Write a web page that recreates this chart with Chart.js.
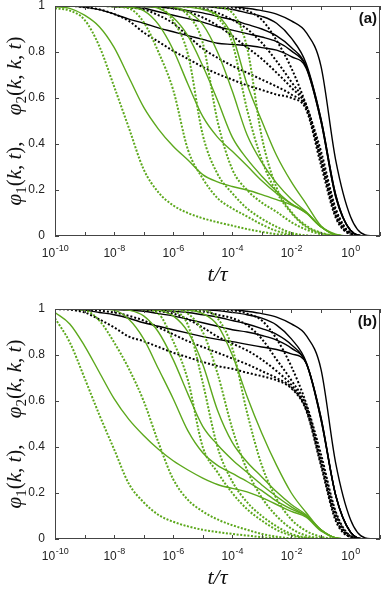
<!DOCTYPE html>
<html>
<head>
<meta charset="utf-8">
<script src="https://cdn.jsdelivr.net/npm/chart.js@4"></script>
<style>
  body { margin: 0; background: #fff; }
  canvas { position: absolute; left: 0; }
</style>
</head>
<body>
<canvas id="chartA" width="382" height="286" style="top:0"></canvas>
<canvas id="chartB" width="382" height="286" style="top:303px"></canvas>
<script>
const GREEN = "#5ca81c";
const BLACK = "#000000";

// common time grid, log10(t/tau)
const LOG_T = [-10, -9.5, -9, -8.5, -8, -7.5, -7, -6.5, -6, -5.5, -5, -4.5, -4, -3.5, -3, -2.5, -2, -1.5, -1, -0.5, 0, 0.5, 1];
const X_TICK_EXP = [-10, -9, -8, -7, -6, -5, -4, -3, -2, -1, 0, 1];
const X_LABEL_EXP = [-10, -8, -6, -4, -2, 0];
const Y_TICKS = [0, 0.2, 0.4, 0.6, 0.8, 1];
const Y_LABELS = ["0", "0.2", "0.4", "0.6", "0.8", "1"];

/* panel (a) */
const greenSolidA1 = [0.997, 0.99, 0.96, 0.91, 0.82, 0.69, 0.56, 0.465, 0.39, 0.33, 0.267, 0.235, 0.215, 0.2, 0.18, 0.158, 0.135, 0.1, 0.04, 0.005, 0, 0, 0];
const greenSolidA2 = [1, 1, 1, 1, 0.998, 0.995, 0.98, 0.92, 0.81, 0.66, 0.52, 0.43, 0.368, 0.305, 0.24, 0.185, 0.14, 0.103, 0.04, 0.005, 0, 0, 0];
const greenSolidA3 = [1, 1, 1, 1, 1, 1, 0.998, 0.99, 0.95, 0.87, 0.74, 0.59, 0.43, 0.335, 0.26, 0.195, 0.14, 0.1, 0.04, 0.005, 0, 0, 0];
const greenSolidA4 = [1, 1, 1, 1, 1, 1, 1, 1, 0.995, 0.975, 0.92, 0.8, 0.63, 0.44, 0.32, 0.23, 0.16, 0.105, 0.04, 0.005, 0, 0, 0];
const greenSolidA5 = [1, 1, 1, 1, 1, 1, 1, 1, 1, 0.995, 0.985, 0.96, 0.87, 0.66, 0.5, 0.35, 0.235, 0.14, 0.045, 0.008, 0, 0, 0];

const greenDotA1 = [0.99, 0.98, 0.94, 0.825, 0.65, 0.47, 0.29, 0.19, 0.133, 0.1, 0.077, 0.06, 0.045, 0.03, 0.018, 0.008, 0.003, 0, 0, 0, 0, 0, 0];
const greenDotA2 = [1, 1, 1, 1, 0.998, 0.99, 0.93, 0.8, 0.635, 0.375, 0.25, 0.165, 0.12, 0.085, 0.05, 0.022, 0.007, 0, 0, 0, 0, 0, 0];
const greenDotA3 = [1, 1, 1, 1, 1, 1, 1, 0.995, 0.935, 0.79, 0.44, 0.27, 0.186, 0.12, 0.075, 0.04, 0.014, 0.003, 0, 0, 0, 0, 0];
const greenDotA4 = [1, 1, 1, 1, 1, 1, 1, 1, 0.995, 0.96, 0.84, 0.5, 0.29, 0.2, 0.145, 0.105, 0.06, 0.028, 0.008, 0.001, 0, 0, 0];
const greenDotA5 = [1, 1, 1, 1, 1, 1, 1, 1, 1, 1, 0.99, 0.95, 0.84, 0.55, 0.33, 0.19, 0.1, 0.04, 0.012, 0.002, 0, 0, 0];
const greenDotA6 = [1, 1, 1, 1, 1, 1, 1, 1, 1, 1, 1, 0.995, 0.97, 0.82, 0.43, 0.21, 0.105, 0.045, 0.014, 0.002, 0, 0, 0];

const blackSolidA1 = [1, 1, 1, 1, 1, 1, 1, 1, 1, 1, 1, 1, 0.998, 0.99, 0.98, 0.965, 0.935, 0.885, 0.74, 0.33, 0.085, 0.005, 0];
const blackSolidA2 = [1, 1, 1, 1, 1, 1, 0.998, 0.995, 0.99, 0.98, 0.97, 0.955, 0.94, 0.92, 0.9, 0.87, 0.82, 0.74, 0.51, 0.18, 0.025, 0, 0];
const blackSolidA3 = [1, 1, 1, 1, 0.998, 0.995, 0.99, 0.975, 0.96, 0.945, 0.93, 0.91, 0.895, 0.88, 0.865, 0.845, 0.805, 0.735, 0.5, 0.17, 0.025, 0, 0];
const blackSolidA4 = [1, 1, 0.995, 0.984, 0.965, 0.943, 0.925, 0.905, 0.888, 0.871, 0.855, 0.838, 0.833, 0.828, 0.819, 0.808, 0.78, 0.73, 0.5, 0.17, 0.025, 0, 0];
const blackSolidA5 = [1, 1, 1, 1, 1, 1, 1, 1, 1, 0.999, 0.998, 0.992, 0.985, 0.97, 0.955, 0.925, 0.86, 0.75, 0.51, 0.18, 0.025, 0, 0];

const blackDotA1 = [1, 1, 0.995, 0.985, 0.965, 0.935, 0.885, 0.845, 0.805, 0.77, 0.735, 0.705, 0.68, 0.655, 0.635, 0.615, 0.6, 0.55, 0.31, 0.08, 0.008, 0, 0];
const blackDotA2 = [1, 1, 1, 1, 0.998, 0.993, 0.985, 0.96, 0.925, 0.87, 0.815, 0.775, 0.74, 0.71, 0.68, 0.65, 0.615, 0.56, 0.33, 0.09, 0.01, 0, 0];
const blackDotA3 = [1, 1, 1, 1, 1, 1, 1, 0.997, 0.99, 0.975, 0.95, 0.915, 0.87, 0.82, 0.77, 0.71, 0.645, 0.565, 0.34, 0.1, 0.01, 0, 0];
const blackDotA4 = [1, 1, 1, 1, 1, 1, 1, 1, 1, 0.997, 0.99, 0.97, 0.94, 0.9, 0.84, 0.76, 0.67, 0.57, 0.35, 0.11, 0.012, 0, 0];
const blackDotA5 = [1, 1, 1, 1, 1, 1, 1, 1, 1, 1, 1, 0.998, 0.995, 0.98, 0.94, 0.85, 0.73, 0.57, 0.37, 0.12, 0.014, 0, 0];

/* panel (b) */
const greenSolidB1 = [0.985, 0.935, 0.84, 0.725, 0.61, 0.52, 0.45, 0.39, 0.34, 0.3, 0.265, 0.237, 0.22, 0.205, 0.18, 0.15, 0.12, 0.095, 0.035, 0.005, 0, 0, 0];
const greenSolidB2 = [1, 1, 1, 1, 0.995, 0.955, 0.87, 0.74, 0.61, 0.47, 0.375, 0.32, 0.285, 0.25, 0.21, 0.165, 0.13, 0.1, 0.04, 0.005, 0, 0, 0];
const greenSolidB3 = [1, 1, 1, 1, 1, 0.995, 0.97, 0.9, 0.78, 0.63, 0.49, 0.41, 0.345, 0.29, 0.235, 0.185, 0.14, 0.1, 0.04, 0.005, 0, 0, 0];
const greenSolidB4 = [1, 1, 1, 1, 1, 1, 1, 0.995, 0.97, 0.9, 0.76, 0.56, 0.42, 0.335, 0.27, 0.205, 0.15, 0.105, 0.04, 0.005, 0, 0, 0];
const greenSolidB5 = [1, 1, 1, 1, 1, 1, 1, 1, 1, 0.995, 0.98, 0.93, 0.8, 0.62, 0.46, 0.32, 0.2, 0.115, 0.04, 0.005, 0, 0, 0];

const greenDotB1 = [0.96, 0.855, 0.7, 0.54, 0.39, 0.24, 0.16, 0.105, 0.075, 0.055, 0.04, 0.03, 0.022, 0.015, 0.008, 0.003, 0, 0, 0, 0, 0, 0, 0];
const greenDotB2 = [1, 1, 0.995, 0.95, 0.855, 0.74, 0.6, 0.42, 0.26, 0.17, 0.12, 0.085, 0.06, 0.04, 0.022, 0.01, 0.003, 0, 0, 0, 0, 0, 0];
const greenDotB3 = [1, 1, 1, 1, 1, 1, 0.998, 0.98, 0.86, 0.69, 0.4, 0.29, 0.2, 0.13, 0.08, 0.04, 0.015, 0.004, 0, 0, 0, 0, 0];
const greenDotB4 = [1, 1, 1, 1, 1, 1, 1, 0.998, 0.99, 0.93, 0.68, 0.4, 0.25, 0.16, 0.1, 0.055, 0.022, 0.006, 0, 0, 0, 0, 0];
const greenDotB5 = [1, 1, 1, 1, 1, 1, 1, 1, 0.998, 0.98, 0.9, 0.72, 0.48, 0.3, 0.18, 0.1, 0.045, 0.015, 0.004, 0, 0, 0, 0];
const greenDotB6 = [1, 1, 1, 1, 1, 1, 1, 1, 1, 1, 0.995, 0.96, 0.83, 0.55, 0.32, 0.175, 0.085, 0.035, 0.01, 0.002, 0, 0, 0];

const blackSolidB1 = [1, 1, 1, 1, 1, 1, 1, 1, 1, 1, 1, 1, 0.998, 0.99, 0.98, 0.965, 0.935, 0.885, 0.74, 0.33, 0.085, 0.005, 0];
const blackSolidB2 = [1, 1, 1, 1, 1, 1, 0.998, 0.995, 0.99, 0.985, 0.975, 0.965, 0.95, 0.935, 0.915, 0.89, 0.845, 0.765, 0.53, 0.19, 0.03, 0, 0];
const blackSolidB3 = [1, 1, 1, 1, 0.998, 0.995, 0.99, 0.98, 0.97, 0.955, 0.94, 0.925, 0.91, 0.9, 0.885, 0.865, 0.83, 0.765, 0.52, 0.19, 0.03, 0, 0];
const blackSolidB4 = [1, 1, 0.995, 0.985, 0.975, 0.96, 0.94, 0.925, 0.91, 0.895, 0.88, 0.868, 0.858, 0.846, 0.835, 0.824, 0.805, 0.765, 0.52, 0.19, 0.03, 0, 0];
const blackSolidB5 = [1, 1, 1, 1, 1, 1, 1, 1, 1, 0.999, 0.998, 0.993, 0.985, 0.975, 0.96, 0.93, 0.87, 0.77, 0.53, 0.19, 0.03, 0, 0];

const blackDotB1 = [1, 0.997, 0.985, 0.955, 0.92, 0.88, 0.86, 0.835, 0.81, 0.79, 0.77, 0.752, 0.74, 0.723, 0.708, 0.69, 0.655, 0.56, 0.32, 0.08, 0.008, 0, 0];
const blackDotB2 = [1, 1, 0.998, 0.993, 0.985, 0.97, 0.95, 0.92, 0.89, 0.86, 0.835, 0.81, 0.785, 0.76, 0.73, 0.7, 0.66, 0.565, 0.33, 0.09, 0.009, 0, 0];
const blackDotB3 = [1, 1, 1, 1, 1, 0.999, 0.998, 0.99, 0.98, 0.955, 0.92, 0.88, 0.85, 0.82, 0.78, 0.73, 0.67, 0.57, 0.34, 0.1, 0.01, 0, 0];
const blackDotB4 = [1, 1, 1, 1, 1, 1, 1, 1, 1, 0.995, 0.99, 0.975, 0.96, 0.93, 0.87, 0.78, 0.69, 0.58, 0.35, 0.11, 0.012, 0, 0];
const blackDotB5 = [1, 1, 1, 1, 1, 1, 1, 1, 1, 1, 1, 0.998, 0.995, 0.98, 0.95, 0.87, 0.75, 0.59, 0.37, 0.12, 0.014, 0, 0];

function curve(values, color, dotted) {
  return {
    data: LOG_T.map((lt, i) => ({ x: Math.pow(10, lt), y: values[i] })),
    borderColor: color,
    borderWidth: dotted ? 2 : 1.4,
    borderDash: dotted ? (color === GREEN ? [2, 1.6] : [2, 2]) : [],
    borderCapStyle: "butt",
    pointRadius: 0,
    cubicInterpolationMode: "monotone",
    fill: false
  };
}

/* frame, inward ticks, tick labels and axis titles */
function drawYTitle(ctx, bx, cy) {
  const big = "21px 'Liberation Serif'";
  const bigIt = "italic 21px 'Liberation Serif'";
  const small = "15px 'Liberation Serif'";
  const parts = [
    [bigIt, "φ", 0], [small, "1", 5], [big, "(", 0], [bigIt, "k", 0], [big, ", ", 0], [bigIt, "t", 0], [big, "),", 0],
    [big, "     ", 0],
    [bigIt, "φ", 0], [small, "2", 5], [big, "(", 0], [bigIt, "k", 0], [big, ", ", 0], [bigIt, "k", 0], [big, ", ", 0], [bigIt, "t", 0], [big, ")", 0]
  ];
  let total = 0;
  parts.forEach(p => { ctx.font = p[0]; total += ctx.measureText(p[1]).width; });
  ctx.save();
  ctx.translate(bx, cy);
  ctx.rotate(-Math.PI / 2);
  ctx.textBaseline = "alphabetic";
  ctx.textAlign = "left";
  let pos = -total / 2;
  parts.forEach(p => {
    ctx.font = p[0];
    ctx.fillText(p[1], pos, p[2]);
    pos += ctx.measureText(p[1]).width;
  });
  ctx.restore();
}

function decorations(label) {
  return {
    id: "decorations",
    afterDraw(chart) {
      const { ctx, chartArea: a, scales: { x, y } } = chart;
      ctx.save();
      ctx.strokeStyle = "#444";
      ctx.lineWidth = 1;
      ctx.strokeRect(a.left + 0.5, a.top + 0.5, a.right - a.left - 1, a.bottom - a.top - 1);
      ctx.beginPath();
      X_TICK_EXP.forEach(e => {
        const px = Math.round(x.getPixelForValue(Math.pow(10, e))) + 0.5;
        ctx.moveTo(px, a.bottom); ctx.lineTo(px, a.bottom - 4);
        ctx.moveTo(px, a.top); ctx.lineTo(px, a.top + 4);
      });
      Y_TICKS.forEach(v => {
        const py = Math.round(y.getPixelForValue(v)) + 0.5;
        ctx.moveTo(a.left, py); ctx.lineTo(a.left + 4, py);
        ctx.moveTo(a.right, py); ctx.lineTo(a.right - 4, py);
      });
      ctx.stroke();

      ctx.fillStyle = "#222";
      ctx.font = "12px 'Liberation Sans'";
      ctx.textAlign = "right";
      ctx.textBaseline = "middle";
      Y_TICKS.forEach((v, i) => ctx.fillText(Y_LABELS[i], a.left - 10, y.getPixelForValue(v)));

      ctx.textAlign = "left";
      ctx.textBaseline = "alphabetic";
      X_LABEL_EXP.forEach(e => {
        const base = "10", sup = String(e);
        ctx.font = "12px 'Liberation Sans'";
        const wb = ctx.measureText(base).width;
        ctx.font = "9px 'Liberation Sans'";
        const ws = ctx.measureText(sup).width;
        const px = x.getPixelForValue(Math.pow(10, e));
        const left = px - (wb + ws) / 2;
        ctx.font = "12px 'Liberation Sans'";
        ctx.fillText(base, left, a.bottom + 21);
        ctx.font = "9px 'Liberation Sans'";
        ctx.fillText(sup, left + wb + 0.5, a.bottom + 15);
      });

      ctx.fillStyle = "#111";
      ctx.textAlign = "center";
      ctx.font = "italic 22px 'Liberation Serif'";
      ctx.fillText("t/τ", (a.left + a.right) / 2, a.bottom + 45);

      drawYTitle(ctx, 21, (a.top + a.bottom) / 2);

      ctx.font = "bold 15px 'Liberation Sans'";
      ctx.textAlign = "right";
      ctx.fillText(label, a.right - 3, a.top + 17);
      ctx.restore();
    }
  };
}

function makeChart(id, label, greens, blacks) {
  const datasets = [
    ...greens.solid.map(v => curve(v, GREEN, false)),
    ...greens.dotted.map(v => curve(v, GREEN, true)),
    ...blacks.solid.map(v => curve(v, BLACK, false)),
    ...blacks.dotted.map(v => curve(v, BLACK, true))
  ];
  new Chart(document.getElementById(id), {
    type: "line",
    data: { datasets },
    options: {
      responsive: false,
      animation: false,
      devicePixelRatio: 1,
      layout: { padding: { top: 6, right: 2, left: 0, bottom: 0 } },
      plugins: { legend: { display: false }, tooltip: { enabled: false } },
      scales: {
        x: {
          type: "logarithmic",
          min: 1e-10,
          max: 10,
          grid: { display: false },
          border: { display: false },
          ticks: { display: false },
          afterFit: s => { s.height = 50; }
        },
        y: {
          min: 0,
          max: 1,
          grid: { display: false },
          border: { display: false },
          ticks: { display: false },
          afterFit: s => { s.width = 55; }
        }
      }
    },
    plugins: [decorations(label)]
  });
}

makeChart("chartA", "(a)",
  { solid: [greenSolidA1, greenSolidA2, greenSolidA3, greenSolidA4, greenSolidA5],
    dotted: [greenDotA1, greenDotA2, greenDotA3, greenDotA4, greenDotA5, greenDotA6] },
  { solid: [blackSolidA1, blackSolidA2, blackSolidA3, blackSolidA4, blackSolidA5],
    dotted: [blackDotA1, blackDotA2, blackDotA3, blackDotA4, blackDotA5] });

makeChart("chartB", "(b)",
  { solid: [greenSolidB1, greenSolidB2, greenSolidB3, greenSolidB4, greenSolidB5],
    dotted: [greenDotB1, greenDotB2, greenDotB3, greenDotB4, greenDotB5, greenDotB6] },
  { solid: [blackSolidB1, blackSolidB2, blackSolidB3, blackSolidB4, blackSolidB5],
    dotted: [blackDotB1, blackDotB2, blackDotB3, blackDotB4, blackDotB5] });
</script>
</body>
</html>
